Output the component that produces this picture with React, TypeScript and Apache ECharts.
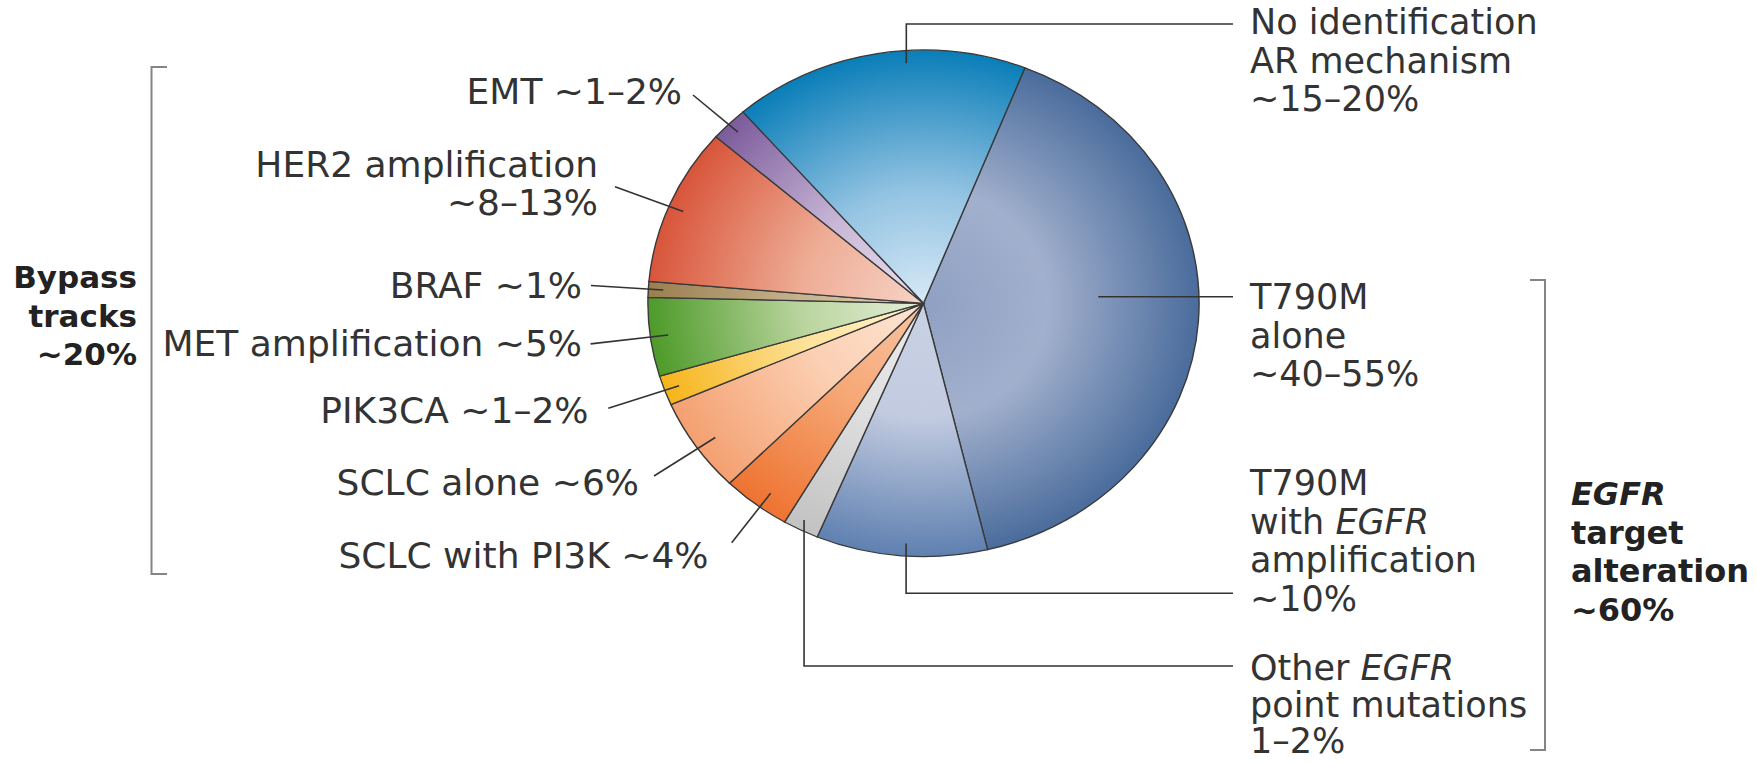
import React, { useEffect, useRef } from "react";
import * as echarts from "echarts";

// Acquired-resistance mechanisms, clockwise from the T790M slice
const sliceNames = [
  "T790M alone",
  "T790M with EGFR amplification",
  "Other EGFR point mutations",
  "SCLC with PI3K",
  "SCLC alone",
  "PIK3CA",
  "MET amplification",
  "BRAF",
  "HER2 amplification",
  "EMT",
  "No identification AR mechanism",
];
const sliceValues = [40.1, 10, 2.1, 4, 6, 1.9, 5, 1, 10, 2.2, 17.3];
const sliceLabels = [
  "T790M\nalone\n~40–55%",
  "T790M\nwith {i|EGFR}\namplification\n~10%",
  "Other {i|EGFR}\npoint mutations\n1–2%",
  "SCLC with PI3K ~4%",
  "SCLC alone ~6%",
  "PIK3CA ~1–2%",
  "MET amplification ~5%",
  "BRAF ~1%",
  "HER2 amplification\n~8–13%",
  "EMT ~1–2%",
  "No identification\nAR mechanism\n~15–20%",
];
// radial gradient stops per slice: [centre, middle, rim]
const sliceColors: string[][] = [
  ["#8fa0c3", "#a2b0cd", "#4a6c9c"],
  ["#c9d1e4", "#c2cbe0", "#5f80b0"],
  ["#ebebeb", "#e0e0e0", "#c2c2c2"],
  ["#f8c4a2", "#f6a877", "#ee7331"],
  ["#fde5d3", "#fbcfb2", "#f4a071"],
  ["#fff4cf", "#fde29a", "#f6b41a"],
  ["#e5efda", "#b9d49d", "#4d9a29"],
  ["#ddd0b4", "#c6b38e", "#9a7e4e"],
  ["#f6d3c6", "#eeac95", "#d8553a"],
  ["#ebe3f0", "#c8b6d6", "#7b5b9b"],
  ["#d7e9f6", "#93c3e2", "#0a7eb8"],
];

const groupLabels = ["Bypass\ntracks\n~20%", "{bi|EGFR}\ntarget\nalteration\n~60%"];

// ---- layout ----
const FONT = "DejaVu Sans";
const TEXT = "#333333";
const CX = 923.5;
const CY = 303.3;
const RX = 275.5;
const RY = 253.3;
const START_CLOCK = 21.6; // degrees clockwise from 12 o'clock

const total = sliceValues.reduce((a, b) => a + b, 0);
const cumBefore: number[] = [];
sliceValues.reduce((acc, v) => {
  cumBefore.push(acc);
  return acc + v;
}, 0);

const clockOf = (cum: number) => START_CLOCK + (cum / total) * 360;
const clockToRad = (c: number) => ((c - 90) * Math.PI) / 180;
const piePoint = (clock: number, frac: number): [number, number] => {
  const a = clockToRad(clock);
  return [CX + RX * frac * Math.cos(a), CY + RY * frac * Math.sin(a)];
};

type LabelPlace = {
  side: "left" | "right";
  tx: number; // text anchor x (left edge for right side, right edge for left side)
  ty: number; // centre of first line
  anchorR: number;
  shift: number;
  lh?: number;
  from?: [number, number]; // start of a straight leader on the left side
  elbowY?: number; // vertical-then-horizontal leader on the right side
  horizontal?: boolean;
};

const RIGHT_X = 1250;
const RIGHT_END = 1233;
const LH = 38.5;

const labelPlaces: LabelPlace[] = [
  { side: "right", tx: RIGHT_X, ty: 297, anchorR: 0.635, shift: -6.4, horizontal: true },
  { side: "right", tx: RIGHT_X, ty: 483, anchorR: 0.95, shift: -0.8, elbowY: 593.3 },
  { side: "right", tx: RIGHT_X, ty: 668, anchorR: 0.959, shift: 0.4, elbowY: 666, lh: 36.5 },
  { side: "left", tx: 708.5, ty: 555, anchorR: 0.933, shift: -1, from: [731.7, 542.7] },
  { side: "left", tx: 639, ty: 482, anchorR: 0.923, shift: -0.6, from: [654, 476] },
  { side: "left", tx: 588.5, ty: 410, anchorR: 0.945, shift: 0, from: [608.3, 408.3] },
  { side: "left", tx: 582, ty: 343, anchorR: 0.935, shift: 0, from: [590.6, 343.9] },
  { side: "left", tx: 582, ty: 285, anchorR: 0.946, shift: 0, from: [591, 285.5] },
  { side: "left", tx: 598, ty: 164, anchorR: 0.944, shift: -0.5, from: [615, 186.7] },
  { side: "left", tx: 682, ty: 91, anchorR: 0.954, shift: 0, from: [693, 95] },
  { side: "right", tx: RIGHT_X, ty: 22, anchorR: 0.95, shift: 5.9, elbowY: 24 },
];

const LEFT_SIZE = 36;
const RIGHT_SIZE = 35;

const graphics: any[] = [];

labelPlaces.forEach((p, i) => {
  const mid = (clockOf(cumBefore[i]) + clockOf(cumBefore[i] + sliceValues[i])) / 2 + p.shift;
  const [ax, ay] = piePoint(mid, p.anchorR);
  let pts: number[][];
  if (p.side === "left") {
    pts = [p.from as number[], [ax, ay]];
  } else if (p.horizontal) {
    pts = [[ax, ay], [RIGHT_END, ay]];
  } else {
    pts = [[ax, ay], [ax, p.elbowY as number], [RIGHT_END, p.elbowY as number]];
  }
  graphics.push({
    type: "polyline",
    z: 100,
    silent: true,
    shape: { points: pts },
    style: { stroke: "#333", lineWidth: 1.6, fill: null },
  });

  const size = p.side === "left" ? LEFT_SIZE : RIGHT_SIZE;
  const align = p.side === "left" ? "right" : "left";
  const lh = p.lh ?? LH;
  graphics.push({
    type: "text",
    z: 100,
    silent: true,
    style: {
      text: sliceLabels[i],
      x: p.tx,
      y: p.ty - lh / 2,
      fill: TEXT,
      fontFamily: FONT,
      fontSize: size,
      lineHeight: lh,
      align,
      textAlign: align,
      verticalAlign: "top",
      textVerticalAlign: "top",
      rich: {
        i: { fontStyle: "italic", fontFamily: FONT, fontSize: size, lineHeight: lh, fill: TEXT },
      },
    },
  });
});

// group brackets
const bracketStyle = { stroke: "#858585", lineWidth: 2, fill: null };
graphics.push({
  type: "polyline",
  z: 100,
  silent: true,
  shape: { points: [[167, 67], [151.5, 67], [151.5, 574], [167, 574]] },
  style: bracketStyle,
});
graphics.push({
  type: "polyline",
  z: 100,
  silent: true,
  shape: { points: [[1530, 280], [1545, 280], [1545, 750], [1530, 750]] },
  style: bracketStyle,
});

graphics.push({
  type: "text",
  z: 100,
  silent: true,
  style: {
    text: groupLabels[0],
    x: 137,
    y: 277 - LH / 2,
    fill: "#222",
    fontFamily: FONT,
    fontSize: 31,
    fontWeight: "bold",
    lineHeight: LH,
    align: "right",
    textAlign: "right",
    verticalAlign: "top",
    textVerticalAlign: "top",
  },
});
graphics.push({
  type: "text",
  z: 100,
  silent: true,
  style: {
    text: groupLabels[1],
    x: 1571,
    y: 494 - LH / 2,
    fill: "#222",
    fontFamily: FONT,
    fontSize: 32,
    fontWeight: "bold",
    lineHeight: LH,
    align: "left",
    textAlign: "left",
    verticalAlign: "top",
    textVerticalAlign: "top",
    rich: {
      bi: {
        fontStyle: "italic",
        fontWeight: "bold",
        fontFamily: FONT,
        fontSize: 32,
        lineHeight: LH,
        fill: "#222",
      },
    },
  },
});

const option: any = {
  animation: false,
  backgroundColor: "#ffffff",
  series: [
    {
      type: "custom",
      coordinateSystem: "none",
      silent: true,
      data: sliceValues.map((v, i) => ({ name: sliceNames[i], value: [cumBefore[i], v] })),
      renderItem: (params: any, api: any) => {
        const i = params.dataIndex;
        const start = clockOf(api.value(0));
        const end = clockOf(api.value(0) + api.value(1));
        const c = sliceColors[i];
        return {
          type: "sector",
          x: CX,
          y: CY,
          scaleX: RX / RY,
          scaleY: 1,
          shape: {
            cx: 0,
            cy: 0,
            r0: 0,
            r: RY,
            startAngle: clockToRad(start),
            endAngle: clockToRad(end),
            clockwise: true,
          },
          style: {
            fill: {
              type: "radial",
              x: 0,
              y: 0,
              r: RY,
              global: true,
              colorStops: [
                { offset: 0, color: c[0] },
                { offset: 0.45, color: c[1] },
                { offset: 1, color: c[2] },
              ],
            },
            stroke: "#3a3a3a",
            lineWidth: 1.3,
          },
        };
      },
    },
  ],
  graphic: { elements: graphics },
};

export default function App() {
  const ref = useRef<HTMLDivElement>(null);
  useEffect(() => {
    document.body.style.margin = "0";
    const chart = echarts.init(ref.current as HTMLDivElement, null, { renderer: "svg" });
    chart.setOption(option);
    return () => chart.dispose();
  }, []);
  return <div ref={ref} style={{ width: 1759, height: 763 }} />;
}
